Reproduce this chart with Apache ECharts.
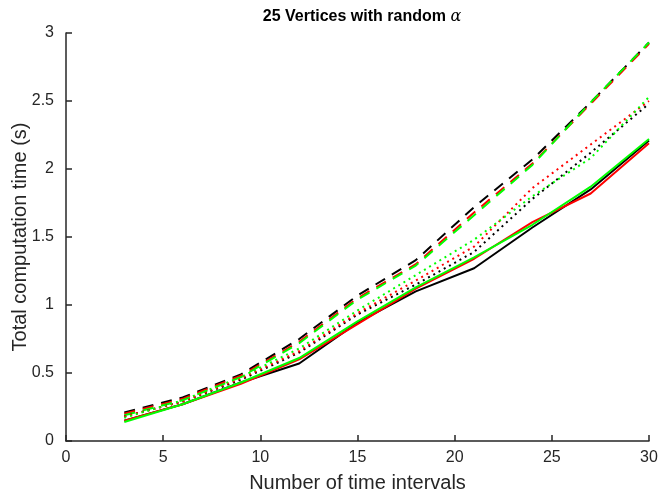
<!DOCTYPE html>
<html>
<head>
<meta charset="utf-8">
<script src="https://cdn.jsdelivr.net/npm/echarts@6/dist/echarts.min.js"></script>
<style>
  html, body { margin: 0; padding: 0; background: #fff; }
  #chart { width: 658px; height: 495px; }
</style>
</head>
<body>
<div id="chart"></div>
<script>
// number of time intervals
var intervals = [3, 6, 9, 12, 15, 18, 21, 24, 27, 30];

// solid lines
var solidBlack = [0.15, 0.27, 0.43, 0.57, 0.87, 1.10, 1.27, 1.57, 1.85, 2.21];
var solidRed   = [0.15, 0.27, 0.42, 0.60, 0.86, 1.12, 1.34, 1.61, 1.82, 2.19];
var solidGreen = [0.14, 0.27, 0.43, 0.61, 0.88, 1.13, 1.35, 1.59, 1.87, 2.22];

// dashed lines
var dashBlack = [0.21, 0.32, 0.49, 0.75, 1.07, 1.33, 1.72, 2.07, 2.49, 2.93];
var dashRed   = [0.20, 0.31, 0.48, 0.73, 1.05, 1.30, 1.68, 2.04, 2.48, 2.92];
var dashGreen = [0.19, 0.30, 0.47, 0.72, 1.04, 1.29, 1.66, 2.03, 2.49, 2.93];

// dotted lines
var dotBlack = [0.18, 0.29, 0.45, 0.65, 0.93, 1.15, 1.39, 1.78, 2.12, 2.48];
var dotRed   = [0.18, 0.29, 0.46, 0.66, 0.94, 1.18, 1.43, 1.86, 2.18, 2.50];
var dotGreen = [0.17, 0.30, 0.47, 0.68, 0.96, 1.22, 1.48, 1.80, 2.08, 2.53];

var xTicks = [0, 5, 10, 15, 20, 25, 30];
var yTicks = [0, 0.5, 1, 1.5, 2, 2.5, 3];

function pairs(ys) {
  return intervals.map(function (x, i) { return [x, ys[i]]; });
}

function line(ys, color, dash) {
  return {
    type: 'line',
    data: pairs(ys),
    showSymbol: false,
    symbol: 'none',
    lineStyle: { color: color, width: 2, type: dash },
    animation: false
  };
}

var axisColor = '#262626';
var font = 'Liberation Sans, Arial, Helvetica, sans-serif';

var chart = echarts.init(document.getElementById('chart'));
chart.setOption({
  backgroundColor: '#fff',
  title: {
    text: '25 Vertices with random {a|α}',
    left: 357,
    textAlign: 'center',
    top: 4,
    textStyle: {
      fontFamily: font,
      fontWeight: 'bold',
      fontSize: 16,
      color: '#000',
      rich: {
        a: { fontFamily: 'DejaVu Serif, serif', fontStyle: 'italic', fontWeight: 'normal', fontSize: 16, color: '#000' }
      }
    }
  },
  grid: { left: 66, right: 9, top: 33, bottom: 54, containLabel: false, outerBoundsMode: 'none' },
  xAxis: {
    type: 'value',
    min: xTicks[0],
    max: xTicks[xTicks.length - 1],
    interval: 5,
    name: 'Number of time intervals',
    nameLocation: 'middle',
    nameGap: 32,
    nameMoveOverlap: false,
    nameTextStyle: { fontFamily: font, fontSize: 20, color: axisColor },
    axisLine: { show: true, lineStyle: { color: axisColor, width: 1.5 } },
    axisTick: { show: true, inside: true, length: 6, lineStyle: { color: axisColor, width: 1.5 } },
    axisLabel: { fontFamily: font, fontSize: 16, color: axisColor, margin: 9 },
    splitLine: { show: false }
  },
  yAxis: {
    type: 'value',
    min: yTicks[0],
    max: yTicks[yTicks.length - 1],
    interval: 0.5,
    name: 'Total computation time (s)',
    nameLocation: 'middle',
    nameGap: 36,
    nameMoveOverlap: false,
    nameTextStyle: { fontFamily: font, fontSize: 20, color: axisColor },
    axisLine: { show: true, lineStyle: { color: axisColor, width: 1.5 } },
    axisTick: { show: true, inside: true, length: 6, lineStyle: { color: axisColor, width: 1.5 } },
    axisLabel: { fontFamily: font, fontSize: 16, color: axisColor, margin: 12 },
    splitLine: { show: false }
  },
  series: [
    line(solidBlack, '#000000', 'solid'),
    line(solidRed, '#ff0000', 'solid'),
    line(solidGreen, '#00ff00', 'solid'),
    line(dashBlack, '#000000', [11, 8]),
    line(dashRed, '#ff0000', [11, 8]),
    line(dashGreen, '#00ff00', [11, 8]),
    line(dotBlack, '#000000', [2, 4]),
    line(dotRed, '#ff0000', [2, 4]),
    line(dotGreen, '#00ff00', [2, 4])
  ]
});
</script>
</body>
</html>
